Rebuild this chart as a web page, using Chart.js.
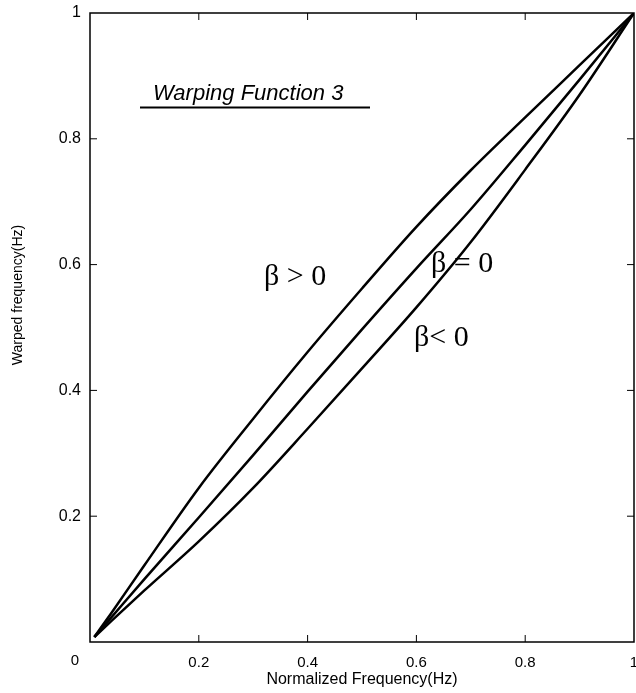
<!DOCTYPE html>
<html>
<head>
<meta charset="utf-8">
<script src="https://cdn.jsdelivr.net/npm/chart.js@4.4.1/dist/chart.umd.min.js"></script>
<style>
  body { margin: 0; background: #fff; }
  #wrap { width: 636px; height: 693px; position: relative; }
</style>
</head>
<body>
<div id="wrap"><canvas id="chart"></canvas></div>
<script>
// values
const tickValues = [0, 0.2, 0.4, 0.6, 0.8, 1];

const freqX = [0.008, 0.04, 0.1, 0.2, 0.3, 0.4, 0.5, 0.6, 0.7, 0.8, 0.9, 1];
const betaPos = [0.008, 0.047, 0.122, 0.245, 0.355, 0.461, 0.562, 0.66, 0.75, 0.834, 0.917, 1];
const betaZero = [0.008, 0.04, 0.1, 0.198, 0.297, 0.398, 0.497, 0.594, 0.688, 0.79, 0.894, 1];
const betaNeg = [0.008, 0.034, 0.082, 0.16, 0.245, 0.339, 0.435, 0.532, 0.636, 0.751, 0.87, 1];

const toPoints = ys => freqX.map((x, i) => ({ x: x, y: ys[i] }));

const lineStyle = {
  borderColor: '#000',
  borderWidth: 2.5,
  pointRadius: 0,
  showLine: true,
  fill: false,
  cubicInterpolationMode: 'monotone'
};

const fmt = v => (v === 0 ? '' : String(Number(v.toFixed(1))));

// frame, inward ticks and the free text of the figure
const decor = {
  id: 'decor',
  afterDraw(chart) {
    const ctx = chart.ctx;
    const a = chart.chartArea;
    const sx = chart.scales.x;
    const sy = chart.scales.y;
    ctx.save();
    ctx.strokeStyle = '#000';
    ctx.lineWidth = 1.5;
    ctx.strokeRect(a.left, a.top, a.right - a.left, a.bottom - a.top);

    const len = 7;
    ctx.lineWidth = 1;
    ctx.beginPath();
    tickValues.slice(1, -1).forEach(v => {
      const px = sx.getPixelForValue(v);
      const py = sy.getPixelForValue(v);
      ctx.moveTo(px, a.bottom); ctx.lineTo(px, a.bottom - len);
      ctx.moveTo(px, a.top); ctx.lineTo(px, a.top + len);
      ctx.moveTo(a.left, py); ctx.lineTo(a.left + len, py);
      ctx.moveTo(a.right, py); ctx.lineTo(a.right - len, py);
    });
    ctx.stroke();

    ctx.fillStyle = '#000';
    // corner zero shared by both axes
    ctx.font = '15px "Liberation Sans", Arial, sans-serif';
    ctx.textAlign = 'center';
    ctx.textBaseline = 'middle';
    ctx.fillText('0', 75, 661);

    // y axis title
    ctx.save();
    ctx.translate(18, 295);
    ctx.rotate(-Math.PI / 2);
    ctx.font = '14px "Liberation Sans", Arial, sans-serif';
    ctx.fillText('Warped frequency(Hz)', 0, 0);
    ctx.restore();

    // heading with underline
    ctx.textAlign = 'left';
    ctx.textBaseline = 'alphabetic';
    ctx.font = 'italic 22px "Liberation Sans", Arial, sans-serif';
    ctx.fillText('Warping Function 3', 153, 100);
    ctx.lineWidth = 2;
    ctx.beginPath();
    ctx.moveTo(140, 107.5);
    ctx.lineTo(370, 107.5);
    ctx.stroke();

    // beta labels
    ctx.font = '30px "Liberation Serif", "Times New Roman", serif';
    ctx.fillText('\u03b2 > 0', 264, 285);
    ctx.fillText('\u03b2 = 0', 431, 272);
    ctx.fillText('\u03b2< 0', 414, 346);
    ctx.restore();
  }
};

new Chart(document.getElementById('chart'), {
  type: 'scatter',
  data: {
    datasets: [
      Object.assign({ label: 'beta > 0', data: toPoints(betaPos) }, lineStyle),
      Object.assign({ label: 'beta = 0', data: toPoints(betaZero) }, lineStyle),
      Object.assign({ label: 'beta < 0', data: toPoints(betaNeg) }, lineStyle)
    ]
  },
  options: {
    responsive: true,
    maintainAspectRatio: false,
    animation: false,
    layout: { padding: { top: 13, right: 2, left: 0, bottom: 0 } },
    plugins: { legend: { display: false }, tooltip: { enabled: false } },
    scales: {
      x: {
        type: 'linear',
        min: 0,
        max: 1,
        afterFit: s => { s.height = 51; s.paddingLeft = 0; s.paddingRight = 0; },
        afterBuildTicks: s => { s.ticks = tickValues.map(v => ({ value: v })); },
        grid: { display: false, drawTicks: false },
        border: { display: false },
        ticks: {
          color: '#000',
          padding: 12,
          maxRotation: 0,
          autoSkip: false,
          font: { family: '"Liberation Sans", Arial, sans-serif', size: 15 },
          callback: fmt
        },
        title: {
          display: true,
          text: 'Normalized Frequency(Hz)',
          color: '#000',
          padding: { top: 0, bottom: 4 },
          font: { family: '"Liberation Sans", Arial, sans-serif', size: 16 }
        }
      },
      y: {
        type: 'linear',
        min: 0,
        max: 1,
        afterFit: s => { s.width = 90; s.paddingTop = 0; s.paddingBottom = 0; },
        afterBuildTicks: s => { s.ticks = tickValues.map(v => ({ value: v })); },
        grid: { display: false, drawTicks: false },
        border: { display: false },
        ticks: {
          color: '#000',
          padding: 9,
          autoSkip: false,
          font: { family: '"Liberation Sans", Arial, sans-serif', size: 16 },
          callback: fmt
        }
      }
    }
  },
  plugins: [decor]
});
</script>
</body>
</html>
